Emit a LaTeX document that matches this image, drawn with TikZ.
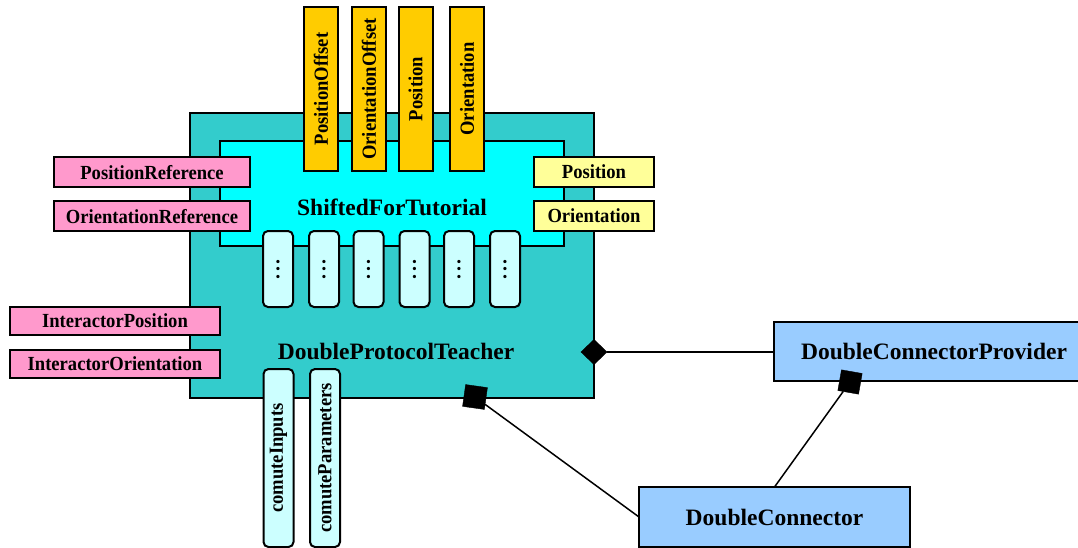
\documentclass[tikz,border=0pt]{standalone}
\usepackage{fontspec}
\setmainfont{Liberation Serif}
\newfontfamily\lblfont{Liberation Serif}[FakeStretch=0.93]
\usetikzlibrary{shapes.geometric}

\definecolor{dptfill}{HTML}{33CCCC}
\definecolor{sftfill}{HTML}{00FFFF}
\definecolor{paramfill}{HTML}{FFCC00}
\definecolor{outfill}{HTML}{FFFF99}
\definecolor{infill}{HTML}{FF99CC}
\definecolor{slotfill}{HTML}{CCFFFF}
\definecolor{provfill}{HTML}{99CCFF}

\tikzset{
  box/.style={draw=black, line width=2pt, inner sep=0pt, outer sep=0pt},
  title/.style={font=\bfseries\fontsize{23.5}{24}\selectfont, inner sep=0pt},
  portlbl/.style={box, font=\lblfont\bfseries\fontsize{20}{22}\selectfont},
  inport/.style={portlbl, fill=infill, text depth=0pt},
  outport/.style={portlbl, fill=outfill, text depth=0pt},
  paramport/.style={portlbl, fill=paramfill, rotate=90,
    minimum width=164pt, minimum height=34pt},
  slot/.style={box, fill=slotfill, rounded corners=5pt, rotate=90,
    minimum width=76pt, minimum height=30pt,
    font=\bfseries\fontsize{20}{22}\selectfont},
  method/.style={portlbl, fill=slotfill, rounded corners=5pt, rotate=90,
    minimum width=178pt, minimum height=30pt},
  component/.style={box, fill=provfill, title, text depth=0pt},
  link/.style={draw=black, line width=1.5pt},
  aggr/.style={fill=black, draw=black, inner sep=0pt, outer sep=0pt}
}

\begin{document}
\begin{tikzpicture}[x=1pt, y=-1pt]
\clip (0,0) rectangle (1078,548);

% composite block and its embedded block
\node[box, fill=dptfill, minimum width=404pt, minimum height=285pt] (dpt) at (392,255.5) {};
\node[box, fill=sftfill, minimum width=344pt, minimum height=105pt] (sft) at (392,193.5) {};
\node[title] (sftname) at (392,207) {ShiftedForTutorial};
\node[title] (dptname) at (396,351) {DoubleProtocolTeacher};

% input ports
\node[inport, minimum width=196pt, minimum height=30pt] (posref) at (152,172) {PositionReference};
\node[inport, minimum width=196pt, minimum height=30pt] (oriref) at (152,216) {OrientationReference};
\node[inport, minimum width=210pt, minimum height=28pt] (ipos) at (115,321) {InteractorPosition};
\node[inport, minimum width=210pt, minimum height=28pt] (iori) at (115,364) {InteractorOrientation};

% output ports
\node[outport, minimum width=120pt, minimum height=30pt] (outpos) at (594,172) {Position};
\node[outport, minimum width=120pt, minimum height=30pt] (outori) at (594,216) {Orientation};

% parameter ports
\node[paramport] (poff) at (321,89) {PositionOffset};
\node[paramport] (ooff) at (369,89) {OrientationOffset};
\node[paramport] (ppos) at (415.5,89) {Position};
\node[paramport] (pori) at (467,89) {Orientation};

% collapsed slots
\foreach \i/\x in {1/278, 2/324, 3/368.5, 4/414.5, 5/459, 6/505}
  \node[slot] (slot\i) at (\x,269) {.\kern2.5pt.\kern2.5pt.};

% method ports
\node[method] (cinputs) at (278.5,458) {comuteInputs};
\node[method] (cparams) at (325,458) {comuteParameters};

% connected components
\node[component, minimum width=320pt, minimum height=59pt] (dcp) at (934,351.5) {DoubleConnectorProvider};
\node[component, minimum width=271pt, minimum height=60pt] (dc) at (774.5,517) {DoubleConnector};

% aggregation markers
\node[aggr, diamond, minimum width=26pt, minimum height=25pt] (dia) at (594,352) {};
\node[aggr, rectangle, minimum size=22pt, rotate=-8] (sqa) at (475,397) {};
\node[aggr, rectangle, minimum size=21pt, rotate=-10] (sqb) at (850,382) {};

% connectors
\draw[link] (dia.east) -- (dia.east -| dcp.west);
\draw[link] (sqa) -- (dc.west);
\draw[link] (sqb) -- (dc.north);
\end{tikzpicture}
\end{document}
